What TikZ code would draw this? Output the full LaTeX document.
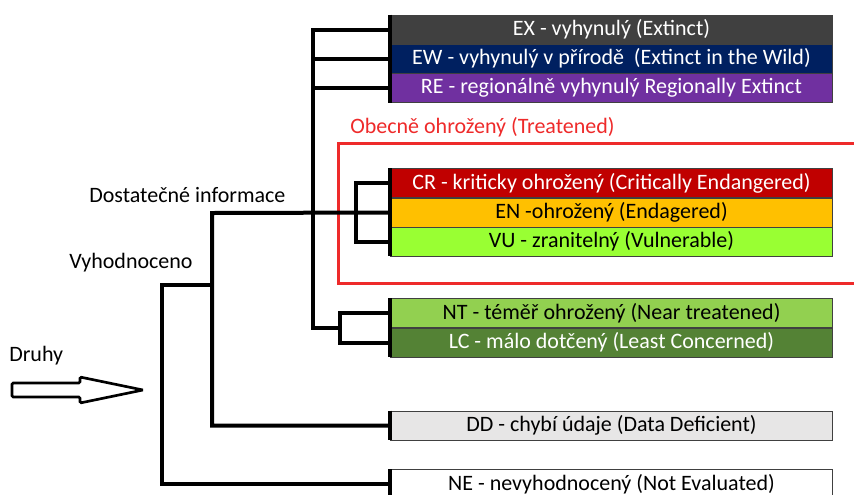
\documentclass[tikz,border=0pt]{standalone}
\usepackage{fontspec}
\setmainfont{Carlito}
\definecolor{exgray}{HTML}{404040}
\definecolor{ewblue}{HTML}{002060}
\definecolor{repurple}{HTML}{7030A0}
\definecolor{crred}{HTML}{C00000}
\definecolor{enorange}{HTML}{FFC000}
\definecolor{vugreen}{HTML}{99FF33}
\definecolor{ntgreen}{HTML}{92D050}
\definecolor{lcgreen}{HTML}{548235}
\definecolor{ddgray}{HTML}{E7E6E6}
\definecolor{threatred}{HTML}{EE2A2A}
\tikzset{
  cat/.style={draw=black!75, line width=0.6pt, minimum width=332pt,
    minimum height=21.75pt, inner sep=0pt,
    font=\fontsize{16.5}{19}\selectfont},
  conn/.style={line width=3pt},
  lbl/.style={anchor=west, inner sep=0pt, font=\fontsize{16.5}{19}\selectfont}
}
\begin{document}
\begin{tikzpicture}[x=0.75pt, y=-0.75pt]
    \useasboundingbox (0,0) rectangle (854,494);
    % categories
    \node[cat, fill=exgray, text=white] (EX) at (611.5,29.5) {EX - vyhynulý (Extinct)};
    \node[cat, fill=ewblue, text=white] (EW) at (611.5,58.5) {EW - vyhynulý v přírodě\ \ (Extinct in the Wild)};
    \node[cat, fill=repurple, text=white] (RE) at (611.5,88) {RE - regionálně vyhynulý Regionally Extinct};
    \node[cat, fill=crred, text=white] (CR) at (611.5,183) {CR - kriticky ohrožený (Critically Endangered)};
    \node[cat, fill=enorange] (EN) at (611.5,212.5) {EN -ohrožený (Endagered)};
    \node[cat, fill=vugreen] (VU) at (611.5,241.5) {VU - zranitelný (Vulnerable)};
    \node[cat, fill=ntgreen] (NT) at (611.5,313) {NT - téměř ohrožený (Near treatened)};
    \node[cat, fill=lcgreen, text=white] (LC) at (611.5,342.5) {LC - málo dotčený (Least Concerned)};
    \node[cat, fill=ddgray] (DD) at (611.5,425.5) {DD - chybí údaje (Data Deficient)};
    \node[cat, fill=white] (NE) at (611.5,484) {NE - nevyhodnocený (Not Evaluated)};
    % labels
    \node[lbl, text=threatred] (OB) at (350,127) {Obecně ohrožený (Treatened)};
    \node[lbl] (DI) at (89,195) {Dostatečné informace};
    \node[lbl] (VY) at (69,263) {Vyhodnoceno};
    \node[lbl] (DR) at (9,356) {Druhy};
    \draw[threatred, line width=2.25pt] (338,143) rectangle (880,283);
    % tree
    \coordinate (t) at (313,328);
    \coordinate (nj) at (340,328);
    \coordinate (cj) at (356,213);
    \coordinate (dj) at (212,213);
    \coordinate (vj) at (162,285);
    \draw[conn] (EX.west) -| (t) -- (nj);
    \draw[conn] (EW.west) -- (EW.west -| t);
    \draw[conn] (RE.west) -- (RE.west -| t);
    \draw[conn] (NT.west) -| (nj) |- (LC.west);
    \draw[conn] (CR.west) -| (cj) |- (VU.west);
    \draw[conn] (DD.west) -| (dj) -- (EN.west);
    \draw[conn] (NE.west) -| (vj) -- (vj -| dj);
    \draw[conn] (EX.north west) -- (RE.south west);
    \draw[conn] (CR.north west) -- (VU.south west);
    \draw[conn] (NT.north west) -- (LC.south west);
    \draw[conn] (DD.north west) -- (DD.south west);
    \draw[conn] (NE.north west) -- (NE.south west);
    % arrow
    \draw[line width=2pt, fill=white, rounded corners=1pt]
      (12,383) -- (80,383) -- (80,377) -- (143,390) -- (80,403)
      -- (80,397) -- (12,397) -- cycle;
\end{tikzpicture}
\end{document}
